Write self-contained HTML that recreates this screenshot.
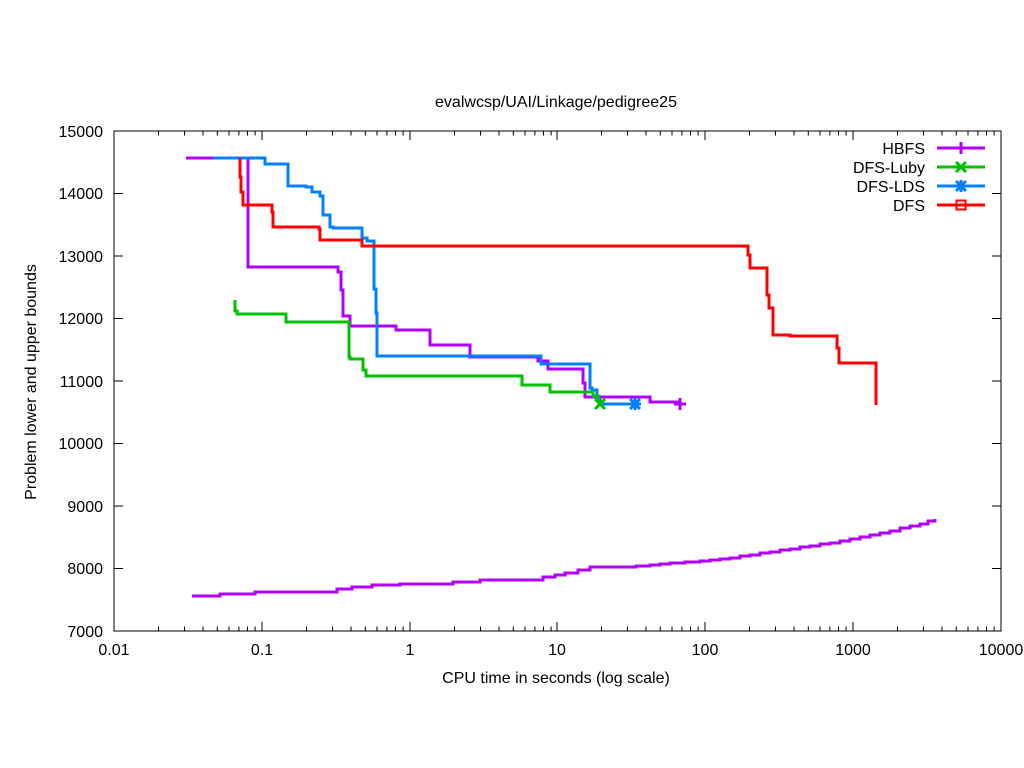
<!DOCTYPE html>
<html><head><meta charset="utf-8"><style>
html,body{margin:0;padding:0;background:#fff}
svg{display:block}
text{font-family:"Liberation Sans",Arial,sans-serif;font-size:16px;fill:#000}
</style></head><body>
<svg width="1024" height="768" viewBox="0 0 1024 768" xmlns="http://www.w3.org/2000/svg">
<text x="556" y="107" text-anchor="middle">evalwcsp/UAI/Linkage/pedigree25</text>
<rect x="114" y="131" width="887" height="500" fill="none" stroke="#000" stroke-width="1"/>
<g stroke="#000" stroke-width="1" id="ticks">
<path d="M114 131h9M1001 131h-9M114 193.5h9M1001 193.5h-9M114 256h9M1001 256h-9M114 318.5h9M1001 318.5h-9M114 381h9M1001 381h-9M114 443.5h9M1001 443.5h-9M114 506h9M1001 506h-9M114 568.5h9M1001 568.5h-9"/>
<path d="M114 631v-9M262 631v-9M410 631v-9M557 631v-9M705 631v-9M853 631v-9M1001 631v-9M114 131v9M262 131v9M410 131v9M557 131v9M705 131v9M853 131v9M1001 131v9"/>
<path d="M158.5 631v-4.5M184.5 631v-4.5M203 631v-4.5M217.3 631v-4.5M229 631v-4.5M238.9 631v-4.5M247.5 631v-4.5M255.1 631v-4.5M306.5 631v-4.5M332.5 631v-4.5M351 631v-4.5M365.3 631v-4.5M377 631v-4.5M386.9 631v-4.5M395.5 631v-4.5M403.1 631v-4.5M454.5 631v-4.5M480.5 631v-4.5M499 631v-4.5M513.3 631v-4.5M525 631v-4.5M534.9 631v-4.5M543.5 631v-4.5M551.1 631v-4.5M601.5 631v-4.5M627.5 631v-4.5M646 631v-4.5M660.3 631v-4.5M672 631v-4.5M681.9 631v-4.5M690.5 631v-4.5M698.1 631v-4.5M749.5 631v-4.5M775.5 631v-4.5M794 631v-4.5M808.3 631v-4.5M820 631v-4.5M829.9 631v-4.5M838.5 631v-4.5M846.1 631v-4.5M897.5 631v-4.5M923.5 631v-4.5M942 631v-4.5M956.3 631v-4.5M968 631v-4.5M977.9 631v-4.5M986.5 631v-4.5M994.1 631v-4.5"/>
<path d="M158.5 131v4.5M184.5 131v4.5M203 131v4.5M217.3 131v4.5M229 131v4.5M238.9 131v4.5M247.5 131v4.5M255.1 131v4.5M306.5 131v4.5M332.5 131v4.5M351 131v4.5M365.3 131v4.5M377 131v4.5M386.9 131v4.5M395.5 131v4.5M403.1 131v4.5M454.5 131v4.5M480.5 131v4.5M499 131v4.5M513.3 131v4.5M525 131v4.5M534.9 131v4.5M543.5 131v4.5M551.1 131v4.5M601.5 131v4.5M627.5 131v4.5M646 131v4.5M660.3 131v4.5M672 131v4.5M681.9 131v4.5M690.5 131v4.5M698.1 131v4.5M749.5 131v4.5M775.5 131v4.5M794 131v4.5M808.3 131v4.5M820 131v4.5M829.9 131v4.5M838.5 131v4.5M846.1 131v4.5M897.5 131v4.5M923.5 131v4.5M942 131v4.5M956.3 131v4.5M968 131v4.5M977.9 131v4.5M986.5 131v4.5M994.1 131v4.5"/>
</g>
<g text-anchor="end">
<text x="103" y="137">15000</text><text x="103" y="199">14000</text><text x="103" y="262">13000</text><text x="103" y="324">12000</text><text x="103" y="387">11000</text><text x="103" y="449">10000</text><text x="103" y="512">9000</text><text x="103" y="574">8000</text><text x="103" y="637">7000</text>
</g>
<g text-anchor="middle">
<text x="114" y="655">0.01</text><text x="262" y="655">0.1</text><text x="410" y="655">1</text><text x="557" y="655">10</text><text x="705" y="655">100</text><text x="853" y="655">1000</text><text x="1001" y="655">10000</text>
<text x="556" y="683">CPU time in seconds (log scale)</text>
</g>
<text transform="translate(36,382) rotate(-90)" text-anchor="middle">Problem lower and upper bounds</text>
<g fill="none" stroke-width="3" stroke-linejoin="miter">
<polyline stroke="#b000ff" points="186,158 248,158 248,267 338,267 338,272 341,272 341,290 343,290 343,316 350,316 350,326 396,326 396,330 430,330 430,345 470,345 470,357 538,357 538,361 548,361 548,369 583,369 583,383 585,383 585,397 650,397 650,402 680,402"/>
<polyline stroke="#0080ff" points="213,158 265,158 265,164 288,164 288,186 306,186 306,187 312,187 312,192 320,192 320,196 323,196 323,215 330,215 330,227 333,227 333,228 362,228 362,238 367,238 367,241 374,241 374,289 376,289 376,313 377,313 377,356 541,356 541,364 590,364 590,388 592,388 592,390 597,390 597,400 600,400 600,404 635,404"/>
<polyline stroke="#ff0000" points="240,158 240,177 241,177 241,192 243,192 243,205 272,205 272,212 273,212 273,227 319,227 319,229 320,229 320,240 362,240 362,246 748,246 748,255 750,255 750,268 767,268 767,295 769,295 769,308 773,308 773,335 790,335 790,336 837,336 837,348 839,348 839,363 876,363 876,405"/>
<polyline stroke="#00c000" points="235,300 235,311 237,311 237,314 286,314 286,322 349,322 349,357 350,357 350,359 363,359 363,370 366,370 366,376 522,376 522,385 550,385 550,392 593,392 593,396 599,396 599,404"/>
<polyline stroke="#b000ff" points="192,596 220,596 220,594 255,594 255,592 337,592 337,589 352,589 352,587 372,587 372,585 400,585 400,584 453,584 453,582 480,582 480,580 543,580 543,577 555,577 555,575 565,575 565,573 578,573 578,570 590,570 590,567 636,567 636,566 650,566 650,565 660,565 660,564 670,564 670,563 685,563 685,562 700,562 700,561 710,561 710,560 720,560 720,559 730,559 730,558 740,558 740,556 750,556 750,555 760,555 760,553 770,553 770,552 780,552 780,550 790,550 790,549 800,549 800,547 810,547 810,546 820,546 820,544 830,544 830,543 840,543 840,541 850,541 850,539 860,539 860,537 870,537 870,535 880,535 880,533 890,533 890,531 900,531 900,528 910,528 910,526 920,526 920,524 928,524 928,521 935,521 935,519"/>
</g>
<g stroke-width="3" fill="none">
<path stroke="#b000ff" d="M674 404h12M680 398v12"/>
<path stroke="#00c000" d="M595 399l10 10M605 399l-10 10"/>
<path stroke="#0080ff" d="M630 399l10 10M640 399l-10 10M629 404h12M635 398v12"/>
</g>
<g text-anchor="end">
<text x="925" y="154">HBFS</text><text x="925" y="173">DFS-Luby</text><text x="925" y="192">DFS-LDS</text><text x="925" y="211">DFS</text>
</g>
<g stroke-width="3" fill="none">
<path stroke="#b000ff" d="M937 148h48M955 148h12M961 142v12"/>
<path stroke="#00c000" d="M937 167h48M956 162l10 10M966 162l-10 10"/>
<path stroke="#0080ff" d="M937 186h48M956 181l10 10M966 181l-10 10M955 186h12M961 180v12"/>
<path stroke="#ff0000" d="M937 205h48"/>
<rect x="956.5" y="200.5" width="9" height="9" stroke="#ff0000" stroke-width="2"/>
</g>
</svg>
</body></html>
